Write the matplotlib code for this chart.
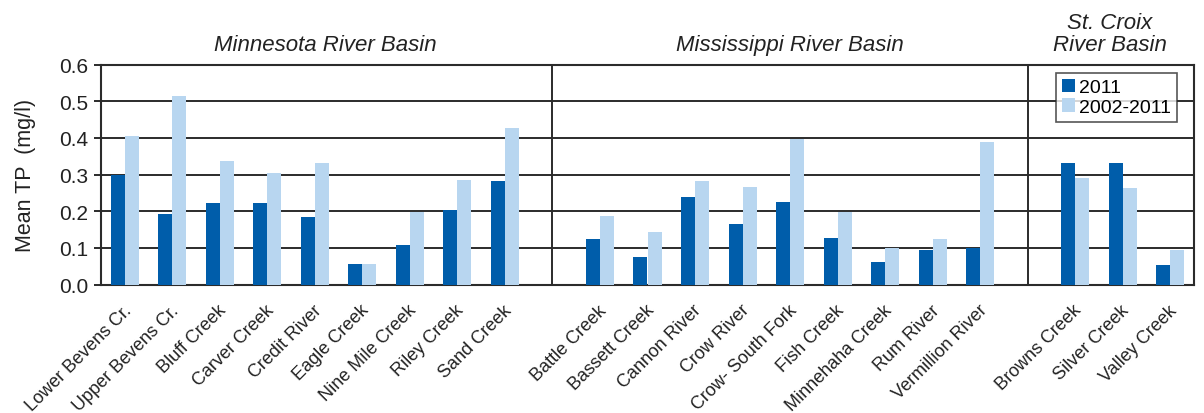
import matplotlib
matplotlib.use("Agg")
import matplotlib.pyplot as plt
import matplotlib.transforms as mtransforms
import numpy as np

plt.rcParams['font.family'] = ['Liberation Sans', 'DejaVu Sans']

minnesota = ["Lower Bevens Cr.", "Upper Bevens Cr.", "Bluff Creek", "Carver Creek",
             "Credit River", "Eagle Creek", "Nine Mile Creek", "Riley Creek", "Sand Creek"]
mississippi = ["Battle Creek", "Bassett Creek", "Cannon River", "Crow River",
               "Crow- South Fork", "Fish Creek", "Minnehaha Creek", "Rum River",
               "Vermillion River"]
st_croix = ["Browns Creek", "Silver Creek", "Valley Creek"]

tp_2011_mn = [0.300, 0.192, 0.221, 0.221, 0.183, 0.057, 0.108, 0.202, 0.281]
tp_decade_mn = [0.406, 0.514, 0.337, 0.304, 0.332, 0.057, 0.199, 0.286, 0.426]
tp_2011_ms = [0.123, 0.076, 0.239, 0.164, 0.225, 0.127, 0.062, 0.094, 0.100]
tp_decade_ms = [0.188, 0.142, 0.281, 0.267, 0.398, 0.198, 0.100, 0.123, 0.388]
tp_2011_sc = [0.332, 0.332, 0.053]
tp_decade_sc = [0.291, 0.262, 0.094]

basin_titles = ["Minnesota River Basin", "Mississippi River Basin", "St. Croix\nRiver Basin"]
series_names = ["2011", "2002-2011"]
yticks = [0.0, 0.1, 0.2, 0.3, 0.4, 0.5, 0.6]

dark = "#005DAA"
light = "#B8D6F0"
grid_col = "#2b2b2b"
text_col = "#222222"

# basins share one row of category slots, separated by one empty slot
groups = [minnesota, mississippi, st_croix]
vals_2011 = [tp_2011_mn, tp_2011_ms, tp_2011_sc]
vals_dec = [tp_decade_mn, tp_decade_ms, tp_decade_sc]

positions, labels, v1, v2, separators = [], [], [], [], []
slot = 0
for gi, names in enumerate(groups):
    for j, n in enumerate(names):
        positions.append(slot)
        labels.append(n)
        v1.append(vals_2011[gi][j])
        v2.append(vals_dec[gi][j])
        slot += 1
    if gi < len(groups) - 1:
        separators.append(slot)
        slot += 1
n_slots = slot
positions = np.array(positions, dtype=float)

fig = plt.figure(figsize=(12.04, 4.14), dpi=100)
ax = fig.add_axes([101 / 1204, 1 - 285.5 / 414, (1194 - 101) / 1204, (285.5 - 65.5) / 414])

bw = 0.295
ax.bar(positions - bw / 2, v1, width=bw, color=dark, label=series_names[0], zorder=3)
ax.bar(positions + bw / 2, v2, width=bw, color=light, label=series_names[1], zorder=3)

ax.set_xlim(-0.5, n_slots - 0.5)
ax.set_ylim(0, 0.6)
ax.set_yticks(yticks)
ax.set_yticklabels([f"{t:.1f}" for t in yticks], fontsize=15, color=text_col)
ax.yaxis.grid(True, color=grid_col, linewidth=1.4, zorder=1)
ax.set_axisbelow(True)
ax.tick_params(axis='y', direction='out', length=5, width=1.4, color=grid_col, pad=4)
ax.tick_params(axis='x', length=0, pad=2)

for s in ax.spines.values():
    s.set_color(grid_col)
    s.set_linewidth(1.5)

for sp in separators:
    ax.axvline(sp, color=grid_col, linewidth=1.4, zorder=2)

ax.set_xticks(positions)
ax.set_xticklabels(labels, rotation=45, ha='right', va='top',
                   rotation_mode='anchor', fontsize=13, color=text_col)
shift = mtransforms.ScaledTranslation(-2 / 100, -14 / 100, fig.dpi_scale_trans)
for lbl in ax.get_xticklabels():
    lbl.set_transform(lbl.get_transform() + shift)

ax.set_ylabel("Mean TP  (mg/l)", fontsize=15.5, color=text_col, labelpad=17)

title_x = [4.22, 14.0, 20.73]
for t, x in zip(basin_titles, title_x):
    ax.text(x, 1.045, t, transform=ax.get_xaxis_transform(), ha='center', va='bottom',
            fontsize=16, style='italic', color=text_col, linespacing=1.05)

leg = ax.legend(loc='upper right', bbox_to_anchor=(1177 / 1204, 1 - 74 / 414),
                bbox_transform=fig.transFigure, fontsize=14, frameon=True,
                fancybox=False, edgecolor=grid_col, handlelength=0.7, handleheight=0.7,
                handletextpad=0.2, borderpad=0.3, labelspacing=0.1, borderaxespad=0)
leg.get_frame().set_linewidth(1.2)
leg.set_zorder(5)

fig.savefig("out.png", dpi=100)
